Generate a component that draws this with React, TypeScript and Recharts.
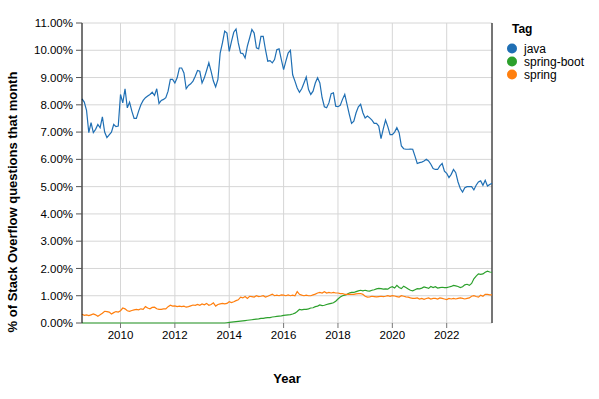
import React from 'react';
import { LineChart, Line, XAxis, YAxis, CartesianGrid, ReferenceLine } from 'recharts';

const FONT = '"Liberation Sans", Arial, Helvetica, sans-serif';

const START_YEAR = 2008;
const START_MONTH = 8; // August 2008

const seriesNames = ['java', 'spring-boot', 'spring'];
const seriesColors = ['#1f6fb4', '#2ca02c', '#ff7f0e'];

// monthly % of Stack Overflow questions, Aug 2008 .. Sep 2023
const java = [
  8.22, 8.1, 7.8, 6.98, 7.35,
  6.98, 7.1, 7.28, 7.16, 7.56, 7.0, 6.8, 6.9, 7.0, 7.28, 7.2, 7.22,
  8.38, 8.07, 8.59, 7.89, 8.1, 7.77, 7.5, 7.5, 7.77, 8.0, 8.16, 8.26,
  8.32, 8.38, 8.46, 8.34, 8.59, 8.05, 8.16, 8.2, 8.26, 8.5, 8.93, 8.93,
  8.8, 8.99, 9.35, 9.35, 9.17, 8.59, 8.71, 8.77, 8.87, 9.05, 9.26, 9.23,
  8.8, 8.99, 9.26, 9.54, 9.23, 8.87, 8.66, 8.93, 9.9, 10.27, 10.7, 10.63,
  9.96, 10.33, 10.66, 10.78, 10.27, 9.9, 9.88, 9.72, 10.15, 10.45, 10.76, 10.63,
  10.09, 10.05, 10.51, 10.51, 10.02, 9.6, 9.62, 9.54, 9.66, 10.02, 10.05, 9.66,
  9.29, 9.6, 9.9, 10.0, 9.1, 8.87, 8.62, 8.46, 8.59, 8.8, 9.02, 8.56,
  8.38, 8.5, 8.8, 8.99, 8.8, 8.26, 7.93, 7.89, 8.07, 8.41, 8.44, 7.95,
  7.93, 7.98, 8.2, 8.38, 8.02, 7.65, 7.32, 7.4, 7.71, 7.93, 8.02, 7.71,
  7.52, 7.59, 7.52, 7.44, 7.32, 7.32, 7.22, 6.76, 7.12, 7.44, 7.2, 6.91,
  6.91, 7.0, 7.16, 6.98, 6.49, 6.39, 6.37, 6.37, 6.38, 6.37, 6.12, 5.85,
  5.88, 5.9, 5.94, 6.0, 5.94, 5.82, 5.66, 5.63, 5.63, 5.76, 5.85, 5.57,
  5.49, 5.33, 5.45, 5.63, 5.51, 5.17, 4.93, 4.8, 4.96, 5.0, 5.0, 5.0,
  4.88, 5.05, 5.17, 5.21, 5.05, 5.23, 5.02, 5.08, 5.12,
];

const springBoot = [
  0, 0, 0, 0, 0,
  0, 0, 0, 0, 0, 0, 0, 0, 0, 0, 0, 0,
  0, 0, 0, 0, 0, 0, 0, 0, 0, 0, 0, 0,
  0, 0, 0, 0, 0, 0, 0, 0, 0, 0, 0, 0,
  0, 0, 0, 0, 0, 0, 0, 0, 0, 0, 0, 0,
  0, 0, 0, 0, 0, 0, 0, 0, 0, 0, 0, 0.01,
  0.02, 0.03, 0.04, 0.05, 0.06, 0.07, 0.08, 0.09, 0.1, 0.11, 0.12, 0.13,
  0.14, 0.15, 0.17, 0.17, 0.19, 0.2, 0.2, 0.22, 0.23, 0.24, 0.25, 0.26,
  0.28, 0.29, 0.3, 0.31, 0.33, 0.36, 0.42, 0.5, 0.48, 0.5, 0.5, 0.52,
  0.55, 0.56, 0.6, 0.62, 0.66, 0.64, 0.65, 0.68, 0.7, 0.72, 0.74, 0.8,
  0.88, 0.95, 1.0, 1.02, 1.05, 1.1, 1.12, 1.12, 1.15, 1.18, 1.2, 1.18,
  1.2, 1.18, 1.17, 1.2, 1.22, 1.25, 1.27, 1.26, 1.24, 1.25, 1.24, 1.3,
  1.33, 1.28, 1.38, 1.3, 1.26, 1.35, 1.3, 1.25, 1.2, 1.18, 1.22, 1.26,
  1.25, 1.28, 1.32, 1.3, 1.27, 1.34, 1.3, 1.33, 1.28, 1.3, 1.31, 1.3,
  1.3, 1.32, 1.34, 1.38, 1.36, 1.34, 1.3, 1.33, 1.4, 1.42, 1.38, 1.45,
  1.62, 1.72, 1.8, 1.78, 1.8, 1.86, 1.9, 1.87, 1.86,
];

const spring = [
  0.32, 0.28, 0.3, 0.27, 0.3,
  0.33, 0.3, 0.25, 0.3, 0.36, 0.43, 0.42, 0.4, 0.33, 0.38, 0.42, 0.4,
  0.45, 0.55, 0.52, 0.45, 0.43, 0.46, 0.48, 0.5, 0.48, 0.52, 0.5, 0.6,
  0.55, 0.52, 0.57, 0.58, 0.52, 0.5, 0.5, 0.52, 0.52, 0.6, 0.65, 0.62,
  0.63, 0.6, 0.62, 0.6, 0.62, 0.58, 0.6, 0.63, 0.66, 0.65, 0.68, 0.65,
  0.7, 0.67, 0.72, 0.65, 0.68, 0.74, 0.62, 0.68, 0.7, 0.72, 0.7, 0.72,
  0.78, 0.75, 0.78, 0.82, 0.85, 0.95, 0.92, 0.97, 0.9, 0.98, 0.97, 0.95,
  1.0, 0.97, 0.98, 1.0, 0.95, 0.98, 1.02, 1.06, 1.0, 1.02, 1.0, 1.03,
  1.02, 1.0, 1.03, 1.0, 1.02, 1.0, 1.15, 1.05, 1.02, 1.0, 1.02, 1.0,
  1.0, 1.03, 1.06, 1.1, 1.12, 1.1, 1.15, 1.1, 1.12, 1.1, 1.12, 1.1,
  1.1, 1.08, 1.08, 1.05, 1.05, 1.06, 1.05, 1.05, 1.07, 1.08, 1.08, 1.05,
  0.98, 0.95, 0.96, 0.98, 0.97, 0.96, 0.97, 0.98, 0.97, 0.98, 1.0, 0.98,
  1.0, 0.99, 0.97, 0.95, 1.0, 0.98, 0.96, 0.95, 0.92, 0.9, 0.9, 0.92,
  0.88, 0.9, 0.87, 0.9, 0.92, 0.88, 0.9, 0.9, 0.88, 0.92, 0.9, 0.88,
  0.86, 0.9, 0.88, 0.9, 0.88, 0.9, 0.92, 0.9, 0.88, 0.9, 0.92, 0.98,
  1.0, 0.97, 0.95, 1.02, 0.98, 1.05, 1.05, 1.03, 1.03,
];

const xTicks = [2010, 2012, 2014, 2016, 2018, 2020, 2022];
const yTicks = [0, 1, 2, 3, 4, 5, 6, 7, 8, 9, 10, 11];

const months = java.map((_, i) => START_YEAR + (START_MONTH - 1 + i) / 12);
const data = months.map((t, i) => ({ t, java: java[i], springBoot: springBoot[i], spring: spring[i] }));
const lastT = months[months.length - 1];

const renderYTitle = () => (
  <text
    x={16.5}
    y={202}
    transform="rotate(-90, 16.5, 202)"
    textAnchor="middle"
    fontFamily={FONT}
    fontSize={13}
    fontWeight="bold"
    fill="#000"
  >
    % of Stack Overflow questions that month
  </text>
);

function TagLegend() {
  return (
    <svg width={100} height={75} style={{ position: 'absolute', left: 500, top: 18, display: 'block' }}>
      <text x={12} y={15} fontFamily={FONT} fontSize={12} fontWeight="bold" fill="#000">Tag</text>
      {seriesNames.map((name, i) => (
        <g key={name}>
          <circle cx={12} cy={30.5 + i * 13} r={5} fill={seriesColors[i]} />
          <text x={24} y={34.5 + i * 13} fontFamily={FONT} fontSize={12} fill="#000">{name}</text>
        </g>
      ))}
    </svg>
  );
}

export default function App() {
  return (
    <div style={{ position: 'absolute', left: 0, top: 0, width: 599, height: 399, background: '#fff' }}>
      <LineChart width={599} height={399} data={data} margin={{ top: 23, right: 107, bottom: 16, left: 0 }}>
        <CartesianGrid stroke="#d6d6d6" />
        <XAxis
          dataKey="t"
          type="number"
          domain={['dataMin', 'dataMax']}
          ticks={xTicks}
          tickFormatter={(v: number) => String(v)}
          tick={{ fill: '#000', fontSize: 11.5, fontFamily: FONT }}
          tickLine={{ stroke: '#777' }}
          tickSize={5}
          tickMargin={3}
          axisLine={false}
          height={60}
          label={{ value: 'Year', position: 'insideBottom', offset: 0, fill: '#000', fontSize: 13, fontWeight: 'bold', fontFamily: FONT }}
        />
        <YAxis
          domain={[0, 11]}
          ticks={yTicks}
          width={82}
          tickFormatter={(v: number) => v.toFixed(2) + '%'}
          tick={{ fill: '#000', fontSize: 11.5, fontFamily: FONT }}
          tickLine={{ stroke: '#555' }}
          tickSize={6}
          tickMargin={3}
          axisLine={{ stroke: '#000' }}
          label={renderYTitle}
        />
        <ReferenceLine x={lastT} stroke="#000" ifOverflow="visible" />
        <Line type="linear" dataKey="java" name="java" stroke={seriesColors[0]} strokeWidth={1.2} dot={false} isAnimationActive={false} />
        <Line type="linear" dataKey="springBoot" name="spring-boot" stroke={seriesColors[1]} strokeWidth={1.2} dot={false} isAnimationActive={false} />
        <Line type="linear" dataKey="spring" name="spring" stroke={seriesColors[2]} strokeWidth={1.2} dot={false} isAnimationActive={false} />
      </LineChart>
      <TagLegend />
    </div>
  );
}
